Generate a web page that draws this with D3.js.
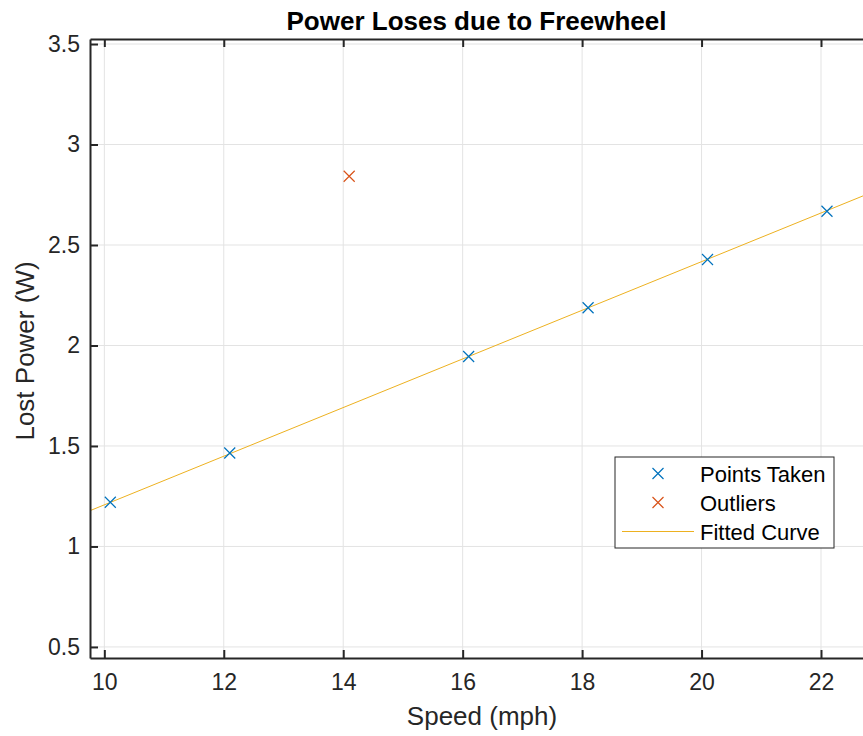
<!DOCTYPE html>
<html>
<head>
<meta charset="utf-8">
<script src="https://cdn.jsdelivr.net/npm/d3@7"></script>
<style>
  body { margin: 0; background: #fff; }
  text { font-family: "Liberation Sans", Arial, sans-serif; fill: #262626; }
</style>
</head>
<body>
<script>
// data
const speed = [10.1, 12.1, 16.1, 18.1, 20.1, 22.1];
const power = [1.22, 1.465, 1.945, 2.188, 2.428, 2.668];
const outSpeed = [14.1];
const outPower = [2.842];
const fitSpeed = [9.76, 22.8];
const fitPower = [1.178, 2.756];
const xTicks = [10, 12, 14, 16, 18, 20, 22];
const yTicks = [0.5, 1, 1.5, 2, 2.5, 3, 3.5];
const legendLabels = ["Points Taken", "Outliers", "Fitted Curve"];

const width = 863, height = 736;
const mLeft = 90, mTop = 39, mRight = 864, mBottom = 658;

const svg = d3.select("body").append("svg")
  .attr("width", width).attr("height", height);

const x = d3.scaleLinear().domain([9.76, 22.72]).range([mLeft, mRight]);
const y = d3.scaleLinear().domain([0.445, 3.525]).range([mBottom, mTop]);

// grid
svg.append("g").selectAll("line").data(xTicks).join("line")
  .attr("x1", d => x(d)).attr("x2", d => x(d))
  .attr("y1", mTop).attr("y2", mBottom)
  .attr("stroke", "#e3e3e3").attr("stroke-width", 1);
svg.append("g").selectAll("line").data(yTicks).join("line")
  .attr("x1", mLeft).attr("x2", mRight)
  .attr("y1", d => y(d)).attr("y2", d => y(d))
  .attr("stroke", "#e3e3e3").attr("stroke-width", 1);

// fitted line
const line = d3.line().x((d, i) => x(fitSpeed[i])).y(d => y(d));
svg.append("path").datum(fitPower)
  .attr("d", line)
  .attr("fill", "none").attr("stroke", "#EDB120").attr("stroke-width", 1);

// cross markers
const cross = (sel, xs, ys, color) => {
  sel.append("g").selectAll("path").data(ys).join("path")
    .attr("transform", (d, i) => "translate(" + x(xs[i]) + "," + y(d) + ")")
    .attr("d", "M-5.5,-5.5L5.5,5.5M-5.5,5.5L5.5,-5.5")
    .attr("stroke", color).attr("stroke-width", 1.2).attr("fill", "none");
};
svg.call(cross, speed, power, "#0072BD");
svg.call(cross, outSpeed, outPower, "#D95319");

// axes (MATLAB style: ticks inside, box on)
const xAxis = d3.axisBottom(x).tickValues(xTicks).tickSizeInner(-8).tickSizeOuter(0).tickPadding(16);
const yAxis = d3.axisLeft(y).tickValues(yTicks).tickSizeInner(-8).tickSizeOuter(0).tickPadding(10)
  .tickFormat(d3.format("~g"));

const gx = svg.append("g").attr("transform", "translate(0," + mBottom + ")").call(xAxis);
const gy = svg.append("g").attr("transform", "translate(" + mLeft + ",0)").call(yAxis);
const gxTop = svg.append("g").attr("transform", "translate(0," + mTop + ")")
  .call(d3.axisTop(x).tickValues(xTicks).tickSizeInner(-8).tickSizeOuter(0).tickFormat(""));
[gx, gy, gxTop].forEach(g => {
  g.select(".domain").attr("stroke", "#262626").attr("stroke-width", 2);
  g.selectAll(".tick line").attr("stroke", "#262626").attr("stroke-width", 2);
  g.selectAll(".tick text").attr("font-size", 23).attr("fill", "#262626")
    .style("font-family", "'Liberation Sans', Arial, sans-serif");
});

// labels
svg.append("text").attr("x", (mLeft + 863) / 2).attr("y", 30)
  .attr("text-anchor", "middle").attr("font-size", 26).attr("font-weight", "bold")
  .style("fill", "#000").text("Power Loses due to Freewheel");
svg.append("text").attr("x", 482).attr("y", 725)
  .attr("text-anchor", "middle").attr("font-size", 26).text("Speed (mph)");
svg.append("text").attr("transform", "translate(34,351) rotate(-90)")
  .attr("text-anchor", "middle").attr("font-size", 26).text("Lost Power (W)");

// legend
const lg = svg.append("g").attr("transform", "translate(615,457)");
lg.append("rect").attr("width", 219).attr("height", 91)
  .attr("fill", "#fff").attr("stroke", "#262626").attr("stroke-width", 1);
const rows = lg.selectAll("g").data(legendLabels).join("g")
  .attr("transform", (d, i) => "translate(0," + (16.5 + i * 29) + ")");
rows.filter((d, i) => i < 2).append("path")
  .attr("d", "M37.5,-5.5L48.5,5.5M37.5,5.5L48.5,-5.5")
  .attr("stroke", (d, i) => i === 0 ? "#0072BD" : "#D95319")
  .attr("stroke-width", 1.2);
rows.filter((d, i) => i === 2).append("line")
  .attr("x1", 7).attr("x2", 79).attr("stroke", "#EDB120").attr("stroke-width", 1);
rows.append("text").attr("x", 85).attr("y", 8).attr("font-size", 22)
  .style("fill", "#000").text(d => d);
</script>
</body>
</html>
